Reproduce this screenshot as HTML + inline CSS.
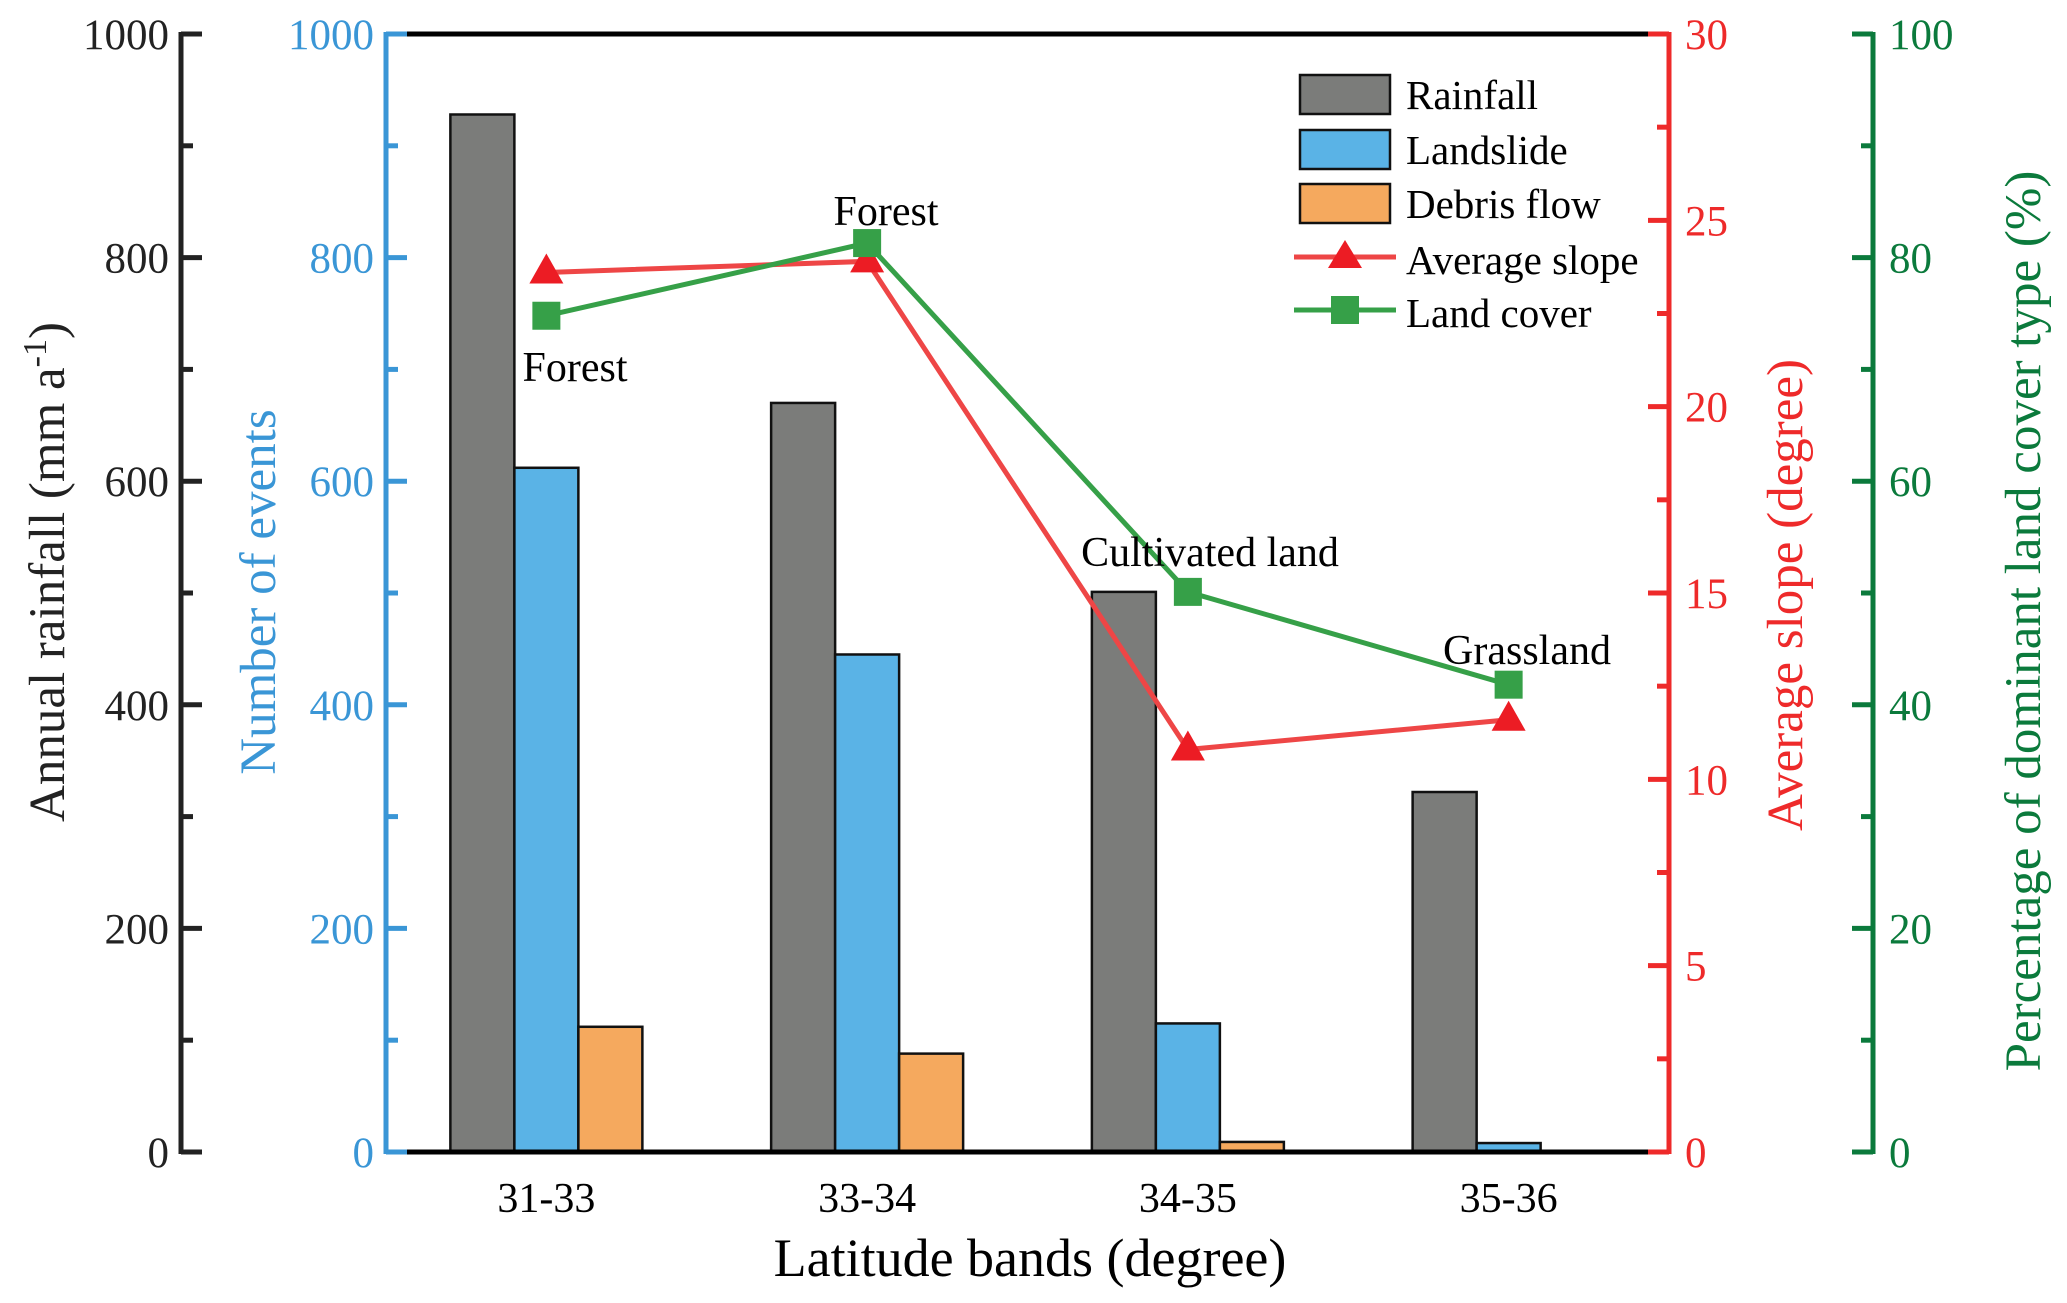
<!DOCTYPE html>
<html><head><meta charset="utf-8"><style>
html,body{margin:0;padding:0;background:#fff;}
svg{display:block;font-family:"Liberation Serif",serif;}
</style></head><body>
<svg id="chart" width="2067" height="1303" viewBox="0 0 2067 1303" xmlns="http://www.w3.org/2000/svg"></svg>
<script>
const categories = ["31-33","33-34","34-35","35-36"];
const rainfall = [928, 670, 501, 322];
const landslide = [612, 445, 115, 8];
const debris = [112, 88, 9, 0];
const slope = [23.6, 23.9, 10.8, 11.6];
const landCover = [74.8, 81.3, 50.1, 41.8];
const coverLabels = ["Forest","Forest","Cultivated land","Grassland"];
const leftTicks = [0,200,400,600,800,1000];
const slopeTicks = [0,5,10,15,20,25,30];
const coverTicks = [0,20,40,60,80,100];

const NS="http://www.w3.org/2000/svg";
const svg=document.getElementById('chart');
function mk(tag,attrs,parent){const e=document.createElementNS(NS,tag);for(const k in attrs)e.setAttribute(k,attrs[k]);(parent||svg).appendChild(e);return e;}
const X0=386,X1=1669,Y0=1152,Y1=34;
const yL=v=>Y0-(v/1000)*(Y0-Y1);
const yS=v=>Y0-(v/30)*(Y0-Y1);
const yC=v=>Y0-(v/100)*(Y0-Y1);
const slot=(X1-X0)/categories.length;
const cx=i=>X0+slot*(i+0.5);
const BW=64;

const barSets=[[rainfall,'#7b7c7a',-1,'rainfall'],[landslide,'#5ab3e6',0,'landslide'],[debris,'#f5a95e',1,'debris-flow']];
barSets.forEach(([vals,col,off,nm])=>{
  vals.forEach((v,i)=>{
    if(v<=0) return;
    const x=cx(i)+off*BW-BW/2;
    const r=mk('rect',{x:x,y:yL(v),width:BW,height:Y0-yL(v),fill:col,stroke:'#111','stroke-width':2.5});
    
    
  });
});

mk('line',{x1:X0,y1:Y1,x2:X1,y2:Y1,stroke:'#000','stroke-width':5,});
mk('line',{x1:X0,y1:Y0,x2:X1,y2:Y0,stroke:'#000','stroke-width':5,});

function axis(x,col,ticks,scale,dir,labelSide,name){
  const g=mk('g',{});
  
  
  mk('line',{x1:x,y1:Y1-2,x2:x,y2:Y0+2,stroke:col,'stroke-width':5},g);
  const n=ticks.length;
  for(let k=0;k<n;k++){
    const y=scale(ticks[k]);
    mk('line',{x1:x,y1:y,x2:x+dir*21,y2:y,stroke:col,'stroke-width':5},g);
    if(k<n-1){const ym=(y+scale(ticks[k+1]))/2;mk('line',{x1:x,y1:ym,x2:x+dir*12,y2:ym,stroke:col,'stroke-width':5},g);}
    const t=mk('text',{x:labelSide<0?x-12:x+16,y:y+15,fill:col,'font-size':43,'text-anchor':labelSide<0?'end':'start'},g);
    t.textContent=ticks[k];
  }
}
axis(181,'#222',leftTicks,yL,1,-1,'rainfall-axis');
axis(X0,'#3a96d6',leftTicks,yL,1,-1,'events-axis');
axis(X1,'#ee2a2a',slopeTicks,yS,-1,1,'slope-axis');
axis(1873,'#0b7a3c',coverTicks,yC,-1,1,'cover-axis');

function series(vals,scale,col,nm){
  const pts=vals.map((v,i)=>cx(i)+','+scale(v)).join(' ');
  const p=mk('polyline',{points:pts,fill:'none',stroke:col,'stroke-width':5});
  
  
}
series(slope,yS,'#ee4646','slope');
series(landCover,yC,'#36a048','land-cover');
slope.forEach((v,i)=>{
  const x=cx(i),y=yS(v);
  const m=mk('polygon',{points:`${x},${y-19} ${x-17},${y+11} ${x+17},${y+11}`,fill:'#ec1c24'});
  
  
});
landCover.forEach((v,i)=>{
  const x=cx(i),y=yC(v);
  const m=mk('rect',{x:x-14,y:y-14,width:28,height:28,fill:'#36a048'});
  
  
});
const labPos=[[575,381],[886,225],[1210,566],[1527,664]];
coverLabels.forEach((s,i)=>{
  const t=mk('text',{x:labPos[i][0],y:labPos[i][1],'font-size':42,'text-anchor':'middle',fill:'#000'});
  
  
  t.textContent=s;
});

categories.forEach((c,i)=>{
  const t=mk('text',{x:cx(i),y:1212,'font-size':42,'text-anchor':'middle',fill:'#000'});
  
  
  t.textContent=c;
});
</script>
<svg style="position:absolute;left:0;top:0" width="2067" height="1303">
<g font-family="Liberation Serif, serif">
<text x="1030" y="1276" font-size="54" text-anchor="middle">Latitude bands (degree)</text>
<text transform="translate(64,572) rotate(-90)" font-size="51" text-anchor="middle" fill="#222">Annual rainfall (mm a<tspan baseline-shift="super" font-size="34">-1</tspan>)</text>
<text transform="translate(275,592) rotate(-90)" font-size="51" text-anchor="middle" fill="#3a96d6">Number of events</text>
<text transform="translate(1802,595) rotate(-90)" font-size="51" text-anchor="middle" fill="#ee2a2a">Average slope (degree)</text>
<text transform="translate(2040,621) rotate(-90)" font-size="51" text-anchor="middle" fill="#0b7a3c">Percentage of dominant land cover type (%)</text>
<g font-size="41">
<rect x="1300" y="75" width="90" height="39" fill="#7b7c7a" stroke="#111" stroke-width="2.5"/>
<text x="1406" y="109">Rainfall</text>
<rect x="1300" y="130" width="90" height="39" fill="#5ab3e6" stroke="#111" stroke-width="2.5"/>
<text x="1406" y="164">Landslide</text>
<rect x="1300" y="184" width="90" height="39" fill="#f5a95e" stroke="#111" stroke-width="2.5"/>
<text x="1406" y="218">Debris flow</text>
<line x1="1294" y1="257" x2="1396" y2="257" stroke="#ee4646" stroke-width="5"/>
<polygon points="1345,240 1328,268 1362,268" fill="#ec1c24"/>
<text x="1406" y="274">Average slope</text>
<line x1="1294" y1="310" x2="1396" y2="310" stroke="#36a048" stroke-width="5"/>
<rect x="1331" y="296" width="28" height="28" fill="#36a048"/>
<text x="1406" y="327">Land cover</text>
</g>
</g>
</svg>
</body></html>
